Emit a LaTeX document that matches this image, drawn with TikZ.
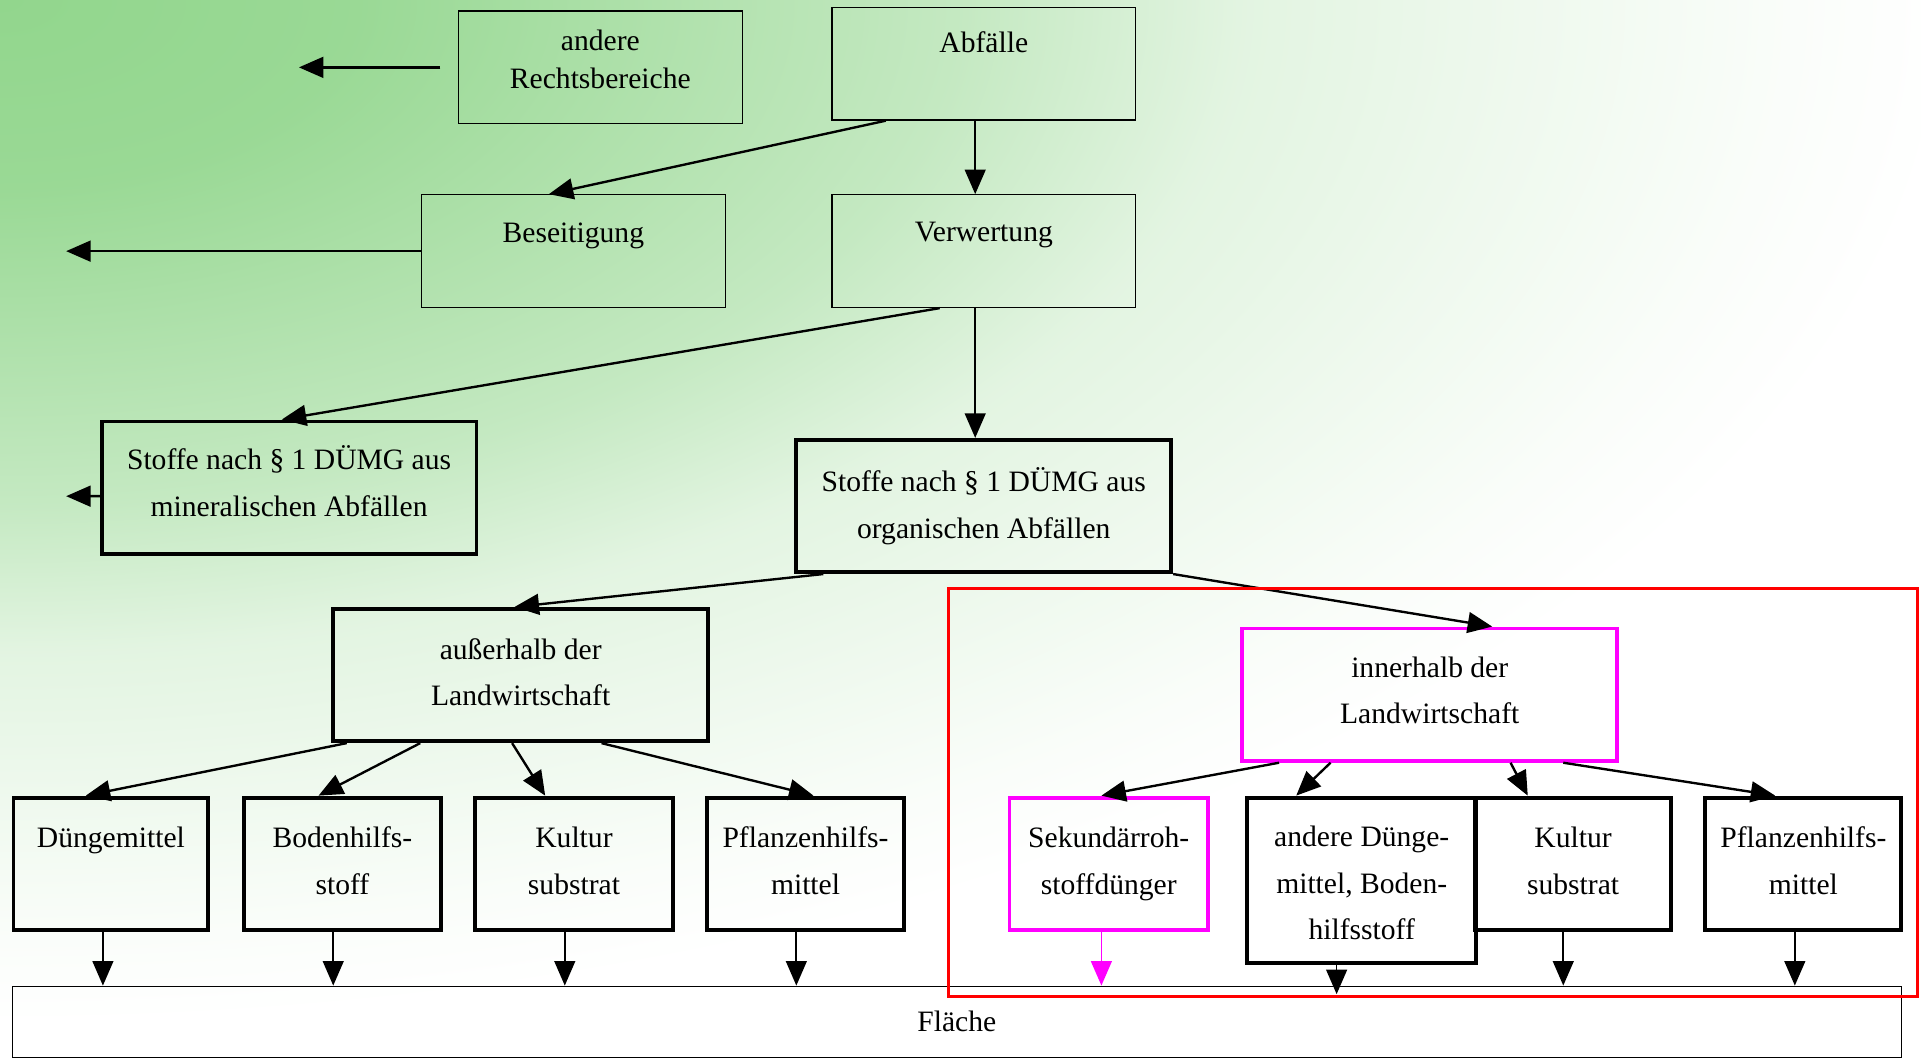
\documentclass[tikz,border=0pt]{standalone}
\usepackage{fontspec}
\setmainfont{Liberation Serif}
\usetikzlibrary{positioning,arrows.meta,calc}
\definecolor{bgGreen}{RGB}{146,214,141}
\definecolor{boxPink}{RGB}{255,0,255}
\definecolor{frameRed}{RGB}{255,0,0}
\colorlet{bgA}{bgGreen!93!white}
\colorlet{bgB}{bgGreen!54!white}
\colorlet{bgC}{bgGreen!26!white}
\colorlet{bgD}{bgGreen!5!white}
\pgfdeclareradialshading{bgfade}{\pgfpoint{0bp}{0bp}}{color(0bp)=(bgGreen); color(2.5bp)=(bgA); color(6.75bp)=(bgB); color(8.75bp)=(bgC); color(12.5bp)=(bgD); color(13.75bp)=(white); color(50bp)=(white)}

\begin{document}
\begin{tikzpicture}[x=0.02cm, y=-0.02cm,
    thinbox/.style={draw, line width=0.6pt, align=center, font=\fontsize{13.75}{17.6}\selectfont, minimum width=4.96cm, minimum height=1.84cm},
    thickbox/.style={draw, line width=1.8pt, align=center, font=\fontsize{13.75}{21.6}\selectfont, minimum height=2.16cm, text depth=0.1cm},
    pinkbox/.style={thickbox, draw=boxPink},
    arr/.style={-{Triangle[length=0.4cm,width=0.34cm]}, line width=1.1pt},
    down/.style={arr, line width=0.8pt}]
  \useasboundingbox (0,0) rectangle (1568,864);
  % background
  \begin{scope}
    \clip (0,0) rectangle (1568,864);
    \shade[shading=bgfade] (0,0) ellipse [x radius=58cm, y radius=30.4cm];
  \end{scope}

  % upper part
  \node[thinbox, minimum width=4.64cm, text depth=0.28cm] (rb) at (490,55) {andere\\Rechtsbereiche};
  \node[thinbox, text depth=0.08cm] (abf) at (803,52) {Abfälle\\\mbox{}};
  \node[thinbox] (bes) at (468,205) {Beseitigung\\\mbox{}};
  \node[thinbox] (verw) at (803,205) {Verwertung\\\mbox{}};
  \coordinate (rbout) at (244,55);
  \coordinate (besout) at (54,205);
  \coordinate (minout) at (54,405);
  \draw[arr] ([xshift=-0.28cm]rb.west) -- (rbout);
  \draw[arr] (bes.west) -- (besout);
  \draw[arr] ([xshift=-1.6cm]abf.south) -- ([xshift=-0.4cm]bes.north);
  \draw[arr, line width=0.8pt] ([xshift=-0.14cm]abf.south) -- ([xshift=-0.14cm]verw.north);

  % Stoffe nach DUEMG
  \node[thickbox, minimum width=6.12cm, text depth=0.22cm] (mineral) at (236,398) {Stoffe nach § 1 DÜMG aus\\mineralischen Abfällen};
  \node[thickbox, minimum width=6.12cm] (organ) at (803,413) {Stoffe nach § 1 DÜMG aus\\organischen Abfällen};
  \draw[arr] ([xshift=-0.72cm]verw.south) -- ([xshift=-0.12cm]mineral.north);
  \draw[arr, line width=0.8pt] ([xshift=-0.14cm]verw.south) -- ([xshift=-0.14cm]organ.north);
  \draw[arr] ([yshift=-0.14cm]mineral.west) -- (minout);

  % ausserhalb / innerhalb
  \node[thickbox, minimum width=6.12cm] (ausser) at (425,551) {außerhalb der\\Landwirtschaft};
  \node[pinkbox, minimum width=6.12cm, text depth=0.15cm] (inner) at (1167,567) {innerhalb der\\Landwirtschaft};
  \draw[arr] ([xshift=-2.62cm]organ.south) -- ([xshift=-0.1cm]ausser.north);
  \draw[arr] (organ.south east) -- ([xshift=1.02cm]inner.north);

  % lower row, left
  \node[thickbox, minimum width=3.18cm] (duenger) at (90.5,705) {Düngemittel\\\mbox{}};
  \node[thickbox, minimum width=3.22cm] (boden) at (279.5,705) {Bodenhilfs-\\stoff};
  \node[thickbox, minimum width=3.22cm] (kulturA) at (468.5,705) {Kultur\\substrat};
  \node[thickbox, minimum width=3.22cm] (pflanzA) at (657.5,705) {Pflanzenhilfs-\\mittel};
  \draw[arr] ([xshift=-2.84cm]ausser.south) -- ([xshift=-0.41cm]duenger.north);
  \draw[arr] ([xshift=-1.64cm]ausser.south) -- ([xshift=-0.39cm]boden.north);
  \draw[arr] ([xshift=-0.14cm]ausser.south) -- ([xshift=-0.47cm]kulturA.north);
  \draw[arr] ([xshift=1.32cm]ausser.south) -- ([xshift=0.13cm]pflanzA.north);

  % lower row, right
  \node[pinkbox, minimum width=3.24cm] (sek) at (905,705) {Sekundärroh-\\stoffdünger};
  \node[thickbox, minimum width=3.74cm, minimum height=2.7cm, text depth=0pt] (andDg) at (1111.5,718.5) {\rule{0pt}{12.2pt}andere Dünge-\\mittel, Boden-\\hilfsstoff};
  \node[thickbox, minimum width=3.2cm] (kulturB) at (1284,705) {Kultur\\substrat};
  \node[thickbox, minimum width=3.2cm] (pflanzB) at (1472,705) {Pflanzenhilfs-\\mittel};
  \draw[arr] ([xshift=-2.46cm]inner.south) -- ([xshift=-0.12cm]sek.north);
  \draw[arr] ([xshift=-1.62cm]inner.south) -- ([xshift=-1.07cm]andDg.north);
  \draw[arr] ([xshift=1.32cm]inner.south) -- ([xshift=-0.74cm]kulturB.north);
  \draw[arr] ([xshift=2.18cm]inner.south) -- ([xshift=-0.46cm]pflanzB.north);

  % Flaeche
  \node[draw, line width=0.6pt, minimum width=30.84cm, minimum height=1.16cm, font=\fontsize{13.75}{17.6}\selectfont] (flaeche) at (781,834) {Fläche};
  \draw[down] ($(duenger.south)+(-0.13cm,0)$) -- ($(duenger.south |- flaeche.north)+(-0.13cm,0)$);
  \draw[down] ($(boden.south)+(-0.15cm,0)$) -- ($(boden.south |- flaeche.north)+(-0.15cm,0)$);
  \draw[down] ($(kulturA.south)+(-0.15cm,0)$) -- ($(kulturA.south |- flaeche.north)+(-0.15cm,0)$);
  \draw[down] ($(pflanzA.south)+(-0.15cm,0)$) -- ($(pflanzA.south |- flaeche.north)+(-0.15cm,0)$);
  \draw[down, boxPink] ($(sek.south)+(-0.12cm,0)$) -- ($(sek.south |- flaeche.north)+(-0.12cm,0)$);
  \draw[down, shorten >=-0.14cm] ($(andDg.south)+(-0.41cm,0)$) -- ($(andDg.south |- flaeche.north)+(-0.41cm,0)$);
  \draw[down] ($(kulturB.south)+(-0.16cm,0)$) -- ($(kulturB.south |- flaeche.north)+(-0.16cm,0)$);
  \draw[down] ($(pflanzB.south)+(-0.14cm,0)$) -- ($(pflanzB.south |- flaeche.north)+(-0.14cm,0)$);

  % red frame
  \draw[frameRed, line width=1.4pt] (774,480) rectangle (1565,813);
\end{tikzpicture}
\end{document}
